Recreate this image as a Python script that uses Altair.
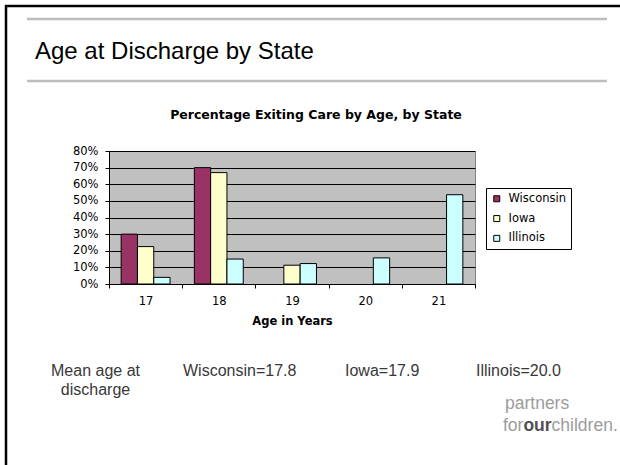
import altair as alt
import pandas as pd

# ---- data ----
ages = ["17", "18", "19", "20", "21"]
states = ["Wisconsin", "Iowa", "Illinois"]
wisconsin = [30, 70, 0, 0, 0]
iowa = [22.5, 67, 11.3, 0, 0]
illinois = [4, 15, 12.3, 15.7, 53.7]
y_ticks = [0, 10, 20, 30, 40, 50, 60, 70, 80]
colors = ["#993366", "#FFFFCC", "#CCFFFF"]

slide_title = "Age at Discharge by State"
chart_title = "Percentage Exiting Care by Age, by State"
x_title = "Age in Years"
mean_label = "Mean age at\ndischarge"
mean_values = ["Wisconsin=17.8", "Iowa=17.9", "Illinois=20.0"]

rows = []
for s, vals in zip(states, [wisconsin, iowa, illinois]):
    for a, v in zip(ages, vals):
        rows.append({"age": a, "state": s, "value": v})
df = pd.DataFrame(rows)

# ---- layout ----
PL, PT = 109, 151
W, H = 366, 133

bars = alt.Chart(df).transform_filter("datum.value > 0").mark_bar(
    stroke="black", strokeWidth=1
).encode(
    x=alt.X("age:N", sort=ages,
            scale=alt.Scale(domain=ages, paddingInner=0, paddingOuter=0),
            axis=alt.Axis(tickBand="extent", labelAngle=0, tickSize=4, tickColor="black",
                          domainColor="black", labelPadding=7, labelFontSize=11.5,
                          labelFont="DejaVu Sans", labelColor="black",
                          title=x_title, titleFont="DejaVu Sans", titleFontWeight="bold",
                          titleFontSize=11.5, titleColor="black", titlePadding=9, grid=False)),
    xOffset=alt.XOffset("state:N", sort=states,
                        scale=alt.Scale(domain=states, paddingInner=0, paddingOuter=0.745)),
    y=alt.Y("value:Q", stack=None,
            scale=alt.Scale(domain=[0, 80], nice=False),
            axis=alt.Axis(values=y_ticks, labelExpr="datum.value + '%'", grid=True,
                          gridColor="black", gridWidth=1, gridOpacity=1,
                          domainColor="black", tickColor="black", tickSize=4,
                          labelPadding=7, labelFontSize=11.5, labelFont="DejaVu Sans",
                          labelColor="black", title=None)),
    fill=alt.Fill("state:N", sort=states,
                  scale=alt.Scale(domain=states, range=colors),
                  legend=alt.Legend(title=None, orient="none", legendX=377, legendY=37,
                                    strokeColor="black", fillColor="white", padding=5,
                                    symbolType="square", symbolSize=36,
                                    symbolStrokeColor="black", symbolStrokeWidth=1,
                                    labelFont="DejaVu Sans", labelFontSize=11.5,
                                    labelColor="black", labelOffset=6, rowPadding=6.8)),
)


def text(t, x, y, size, font="Liberation Sans", color="black", weight="normal",
         align="left", line_height=None):
    kw = dict(font=font, fontSize=size, color=color, fontWeight=weight,
              align=align, baseline="alphabetic")
    if line_height is not None:
        kw["lineBreak"] = "\n"
        kw["lineHeight"] = line_height
    return alt.Chart(pd.DataFrame({"t": [t]})).mark_text(**kw).encode(
        text="t:N", x=alt.value(x - PL), y=alt.value(y - PT))


def hrule(x1, x2, y, color, width):
    return alt.Chart(pd.DataFrame({"a": [0]})).mark_rule(color=color, strokeWidth=width).encode(
        x=alt.value(x1 - PL), x2=alt.value(x2 - PL), y=alt.value(y - PT))


def vrule(x, y1, y2, color, width):
    return alt.Chart(pd.DataFrame({"a": [0]})).mark_rule(color=color, strokeWidth=width).encode(
        x=alt.value(x - PL), y=alt.value(y1 - PT), y2=alt.value(y2 - PT))


LOGO_Y = 409
layers = [
    bars,
    hrule(5, 620, 6, "black", 2.5),
    vrule(6, 5, 465, "black", 2.5),
    hrule(27, 607, 19, "#bdbdbd", 2.5),
    hrule(27, 607, 81, "#bdbdbd", 2.5),
    text(slide_title, 35, 59, 24),
    text(chart_title, 316, 119, 12.5, font="DejaVu Sans", weight="bold", align="center"),
    text(mean_label, 95.5, 376, 16, color="#383838", align="center", line_height=18.5),
    text(mean_values[0], 183, 376, 16, color="#383838"),
    text(mean_values[1], 345, 376, 16, color="#383838"),
    text(mean_values[2], 476, 376, 16, color="#383838"),
    text("partners", 505, LOGO_Y, 17.5, color="#9c9c9c"),
    text("for", 503, LOGO_Y + 22, 17.5, color="#9c9c9c"),
    text("our", 523.4, LOGO_Y + 22, 17.5, color="#505050", weight="bold"),
    text("children.", 551.6, LOGO_Y + 22, 17.5, color="#9c9c9c"),
]

chart = alt.layer(*layers).properties(
    width=W, height=H,
    autosize=alt.AutoSizeParams(type="none"),
    padding={"left": PL, "top": PT, "right": 620 - PL - W, "bottom": 465 - PT - H},
    background="white",
).configure_view(fill="#C0C0C0", stroke="#808080", strokeWidth=1)

chart.save("out.html", embed_options={"renderer": "svg", "actions": False})
